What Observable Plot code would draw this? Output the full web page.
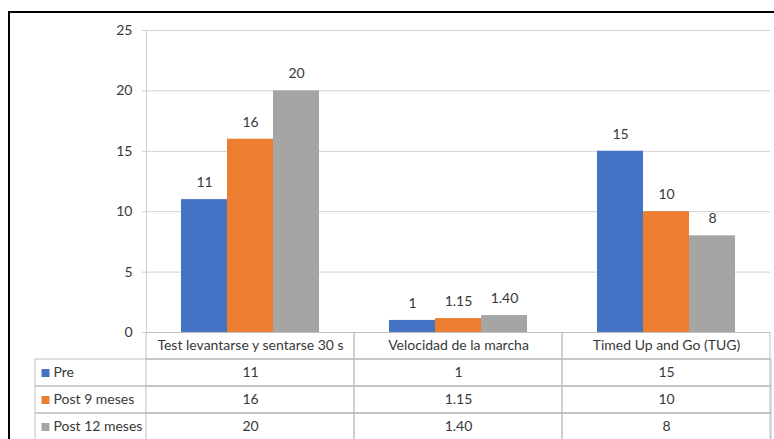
<!DOCTYPE html>
<html>
<head>
<meta charset="utf-8">
<script src="https://cdn.jsdelivr.net/npm/d3@7"></script>
<script src="https://cdn.jsdelivr.net/npm/@observablehq/plot@0.6"></script>
<style>
  html, body { margin: 0; padding: 0; background: #fff; }
  #wrap { position: relative; width: 774px; height: 439px; overflow: hidden; font-family: Lato, sans-serif; }
  #chart, #table { position: absolute; left: 0; }
  #chart { top: 0; }
  #table { top: 332px; }
  #border { position: absolute; left: 8px; top: 11px; width: 900px; height: 600px; border: 2px solid #000; pointer-events: none; }
</style>
</head>
<body>
<div id="wrap">
  <div id="table"></div>
  <div id="chart"></div>
  <div id="border"></div>
</div>
<script>
// Categories, series and values (as printed in the data table)
const categories = ["Test levantarse y sentarse 30 s", "Velocidad de la marcha", "Timed Up and Go (TUG)"];
const seriesNames = ["Pre", "Post 9 meses", "Post 12 meses"];
const pre = ["11", "1", "15"];
const post9 = ["16", "1.15", "10"];
const post12 = ["20", "1.40", "8"];
const seriesColors = ["#4472C4", "#ED7D31", "#A5A5A5"];
const yTicks = [0, 5, 10, 15, 20, 25];

const textColor = "#383838";
const gridColor = "#cfcfcf";
const lineColor = "#bfbfbf";

const rows = [pre, post9, post12].flatMap((vals, s) =>
  vals.map((label, c) => ({series: seriesNames[s], category: categories[c], label, value: +label}))
);

const chart = Plot.plot({
  width: 774,
  height: 345,
  marginLeft: 145,
  marginRight: 3,
  marginTop: 30,
  marginBottom: 13,
  style: {fontFamily: "Lato, sans-serif", fontSize: "14px", color: textColor, background: "transparent"},
  fx: {domain: categories, padding: 0, axis: null},
  x: {domain: seriesNames, paddingInner: 0, paddingOuter: 0.75, axis: null},
  y: {domain: [0, 25], axis: null},
  color: {domain: seriesNames, range: seriesColors},
  marks: [
    Plot.ruleY(yTicks, {stroke: gridColor}),
    Plot.frame({anchor: "left", stroke: gridColor, facet: "super"}),
    Plot.axisY({ticks: yTicks, label: null, tickSize: 4, tickPadding: 10, stroke: gridColor, fill: textColor, fontSize: 14}),
    Plot.barY(rows, {fx: "category", x: "series", y: "value", fill: "series"}),
    Plot.ruleY([0], {stroke: lineColor}),
    Plot.text(rows, {fx: "category", x: "series", y: "value", text: "label", dy: -17, fill: textColor, fontSize: 14})
  ]
});
document.getElementById("chart").append(chart);

// Data table under the axis: category header row, then one row per series
const table = Plot.plot({
  width: 774,
  height: 108,
  marginLeft: 35,
  marginRight: 3,
  marginTop: 0,
  marginBottom: 0,
  style: {fontFamily: "Lato, sans-serif", fontSize: "14px", color: textColor, background: "transparent"},
  x: {domain: categories, padding: 0, insetLeft: 110, axis: null},
  y: {domain: ["header", ...seriesNames], padding: 0, axis: null},
  color: {domain: seriesNames, range: seriesColors},
  marks: [
    Plot.cell(categories, {x: (d) => d, y: () => "header", stroke: lineColor, fill: "none", inset: 0}),
    Plot.cell(seriesNames, {y: (d) => d, stroke: lineColor, fill: "none", inset: 0}),
    Plot.cell(rows, {x: "category", y: "series", stroke: lineColor, fill: "none", inset: 0}),
    Plot.text(categories, {x: (d) => d, y: () => "header", text: (d) => d, fill: textColor}),
    Plot.text(rows, {x: "category", y: "series", text: "label", fill: textColor}),
    Plot.dot(seriesNames, {y: (d) => d, frameAnchor: "left", dx: 10, symbol: "square", r: 4.5, fill: (d) => d}),
    Plot.text(seriesNames, {y: (d) => d, text: (d) => d, frameAnchor: "left", textAnchor: "start", dx: 18, fill: textColor})
  ]
});
document.getElementById("table").append(table);
</script>
</body>
</html>
